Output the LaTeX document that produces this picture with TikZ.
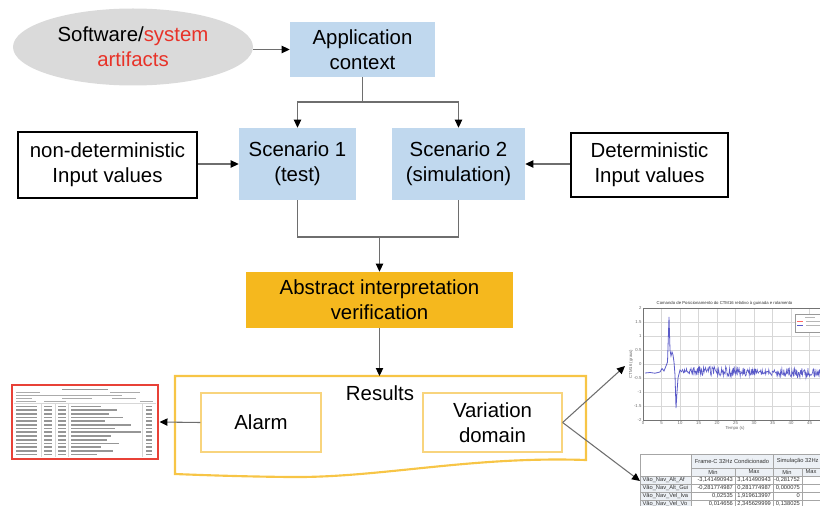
\documentclass[tikz,border=0pt]{standalone}
\usepackage{fontspec}
\setmainfont{Liberation Sans}
\usetikzlibrary{arrows.meta,shapes.geometric}
\definecolor{lblue}{RGB}{192,216,238}
\definecolor{ellg}{RGB}{218,218,218}
\definecolor{redt}{RGB}{232,50,40}
\definecolor{orng}{RGB}{245,184,30}
\definecolor{resb}{RGB}{247,197,70}
\definecolor{resin}{RGB}{248,212,125}
\definecolor{connc}{RGB}{110,110,110}
\definecolor{redb}{RGB}{232,65,55}
\definecolor{tgray}{RGB}{150,150,150}
\definecolor{gridc}{RGB}{215,215,215}
\definecolor{sigc}{RGB}{90,90,200}
\definecolor{thead}{RGB}{236,240,245}
\newcommand\mainfs{\fontsize{15.3}{18.5}\selectfont}
\newcommand\tinyfs{\fontsize{4.3}{5}\selectfont}
\newcommand\microfs{\fontsize{3.2}{3.5}\selectfont}
\newcommand\trow[5]{%
  \node[font=\tinyfs,text=black!80,anchor=west,inner sep=1pt] at (641,#1) {#2};
  \node[font=\tinyfs,text=black!80,anchor=east,inner sep=1pt] at (734.5,#1) {#3};
  \node[font=\tinyfs,text=black!80,anchor=east,inner sep=1pt] at (772.5,#1) {#4};
  \node[font=\tinyfs,text=black!80,anchor=east,inner sep=1pt] at (801.5,#1) {#5};}
\begin{document}
\begin{tikzpicture}[x=0.75pt,y=-0.75pt,
  wh/.style 2 args={minimum width=#1*0.75pt,minimum height=#2*0.75pt},
  box/.style={rectangle,inner sep=0pt,align=center,font=\mainfs},
  bluebox/.style={box,fill=lblue},
  inbox/.style={box,draw=black,line width=1.5pt},
  resbox/.style={box,draw=resin,line width=0.9pt},
  conn/.style={draw=connc,line width=0.8pt,-{Triangle[length=6pt,width=5.5pt,color=black]}},
  plainline/.style={draw=connc,line width=0.8pt},
  thinline/.style={draw=gridc,line width=0.3pt}]
\useasboundingbox (0,0) rectangle (820,506);

% ---- main nodes
\node[ellipse,fill=ellg,wh={240}{77},inner sep=0pt,align=center,font=\mainfs] (sw) at (133,47)
  {Software/\textcolor{redt}{system}\\\textcolor{redt}{artifacts}};
\node[bluebox,wh={145}{55}] (app) at (362.5,49.5) {Application\\context};
\node[bluebox,wh={117}{72}] (s1) at (297.5,164) {Scenario 1\\(test)};
\node[bluebox,wh={133}{72}] (s2) at (458.5,164) {Scenario 2\\(simulation)};
\node[inbox,wh={179}{66}] (nd) at (107.5,165) {non-deterministic\\Input values};
\node[inbox,wh={157}{64}] (det) at (649.5,165) {Deterministic\\Input values};
\node[box,fill=orng,wh={267}{56}] (aiv) at (379.5,300) {Abstract interpretation\\verification};

% ---- results document shape
\draw[draw=resb,line width=1.6pt] (175,376) -- (586,376) -- (586,460)
  .. controls (470,456) and (380,478) .. (290,477)
  .. controls (240,476.5) and (200,475) .. (175,474) -- cycle;
\coordinate (restop) at (379.5,376);
\node[font=\mainfs] (reslbl) at (380,393) {Results};
\node[resbox,wh={120}{59}] (alarm) at (261,422.5) {Alarm};
\node[resbox,wh={139}{59}] (var) at (492.5,422.5) {Variation\\domain};

% ---- left table picture
\node[draw=redb,line width=2.2pt,fill=white,wh={146}{74}] (lt) at (85,422) {};
\fill[tgray] (62,388.5) rectangle (108,390);
\fill[tgray!80] (16,391.5) rectangle (40,392.8);
\fill[tgray!80] (110,391.5) rectangle (140,392.8);
\fill[tgray!80] (16,394.5) rectangle (122,395.8);
\fill[tgray!80] (16,397.5) rectangle (32,398.8);
\fill[tgray!80] (62,397.5) rectangle (92,398.8);
\fill[tgray!80] (112,397.5) rectangle (136,398.8);
\fill[tgray!80] (16,400.5) rectangle (36,401.8);
\fill[tgray!80] (44,400.5) rectangle (66,401.8);
\fill[tgray!80] (140,400.5) rectangle (153,401.8);
\draw[thinline] (14,403.5) -- (156,403.5);
\foreach \xx in {41,55,68,142} {\draw[thinline] (\xx,403.5) -- (\xx,457);}
\foreach \yy/\ll in {405.5/30,409.2/46,412.9/38,416.6/52,420.3/34,424/60,427.7/44,431.4/70,435.1/40,438.8/36,442.5/48,446.2/30,449.9/42,453.6/26}{
  \fill[tgray] (16,\yy) rectangle (37,{\yy+1.7});
  \fill[tgray] (44,\yy) rectangle (52,{\yy+1.7});
  \fill[tgray] (58,\yy) rectangle (66,{\yy+1.7});
  \fill[tgray] (71,\yy) rectangle ({71+\ll},{\yy+1.7});
  \fill[tgray] (146,\yy) rectangle (152,{\yy+1.7});
}

% ---- chart picture and table picture (clipped to the page)
\begin{scope}
\clip (0,0) rectangle (820,506);
\node[font=\microfs,anchor=west,text=black!80] (charttitle) at (652,303)
  {Comando de Posicionamento do CTM16 relativo à guinada e rolamento};
\foreach \xx in {661.5,680,698.5,717,735.5,754,772.5,791,809.5} {\draw[thinline] (\xx,308) -- (\xx,420);}
\foreach \yy in {322,336,350,364,378,392,406} {\draw[thinline] (643,\yy) -- (830,\yy);}
\draw[draw=black!55,line width=0.4pt] (643,308) rectangle (835,420);
\foreach \yy/\lab in {308/2,322/1.5,336/1,350/0.5,364/0,378/-0.5,392/-1,406/-1.5,420/-2}
  {\node[font=\microfs,anchor=east,text=black!60,inner sep=1pt] at (643,\yy) {\lab};}
\foreach \xx/\lab in {643/0,661.5/5,680/10,698.5/15,717/20,735.5/25,754/30,772.5/35,791/40,809.5/45}
  {\node[font=\microfs,anchor=north,text=black!60,inner sep=1pt] at (\xx,420) {\lab};}
\node[font=\microfs,text=black!60] (xlab) at (735,428) {Tempo (s)};
\node[font=\microfs,text=black!60,rotate=90] (ylab) at (631,364) {CTM16 (graus)};
\draw[draw=black!40,fill=white,line width=0.3pt] (795,314) rectangle (828,332);
\draw[red!60,line width=0.3pt] (797,321) -- (803,321);
\draw[sigc,line width=0.3pt] (797,325) -- (803,325);
\fill[tgray!70] (806,320.5) rectangle (822,321.5);
\fill[tgray!70] (806,324.5) rectangle (824,325.5);
\fill[tgray!70] (805,316.5) rectangle (815,317.3);
\draw[sigc,line width=0.6pt] plot coordinates {(645,373) (650,372.5) (655,373.2) (660,372) (662,368.5) (664,371) (666,366) (667.5,362) (669,317) (670,350) (671,356) (672,352) (673,355) (674,362) (675,375) (676,408) (677,392) (678,378) (680,370) (682,372)};
\pgfmathsetseed{7}
\draw[sigc,line width=0.45pt] plot[domain=0:150,samples=300] ({682+\x},{370.5+0.02*\x+(2.2+3.2*abs(sin(\x*2.2)))*rand});

% bottom table
\fill[thead] (640,454) rectangle (691,510);
\fill[thead] (691,454) rectangle (830,476);
\foreach \yy in {454,468,476,484,492,500} {\draw[draw=black!35,line width=0.35pt] (640,\yy) -- (830,\yy);}
\foreach \xx in {640,691,773} {\draw[draw=black!35,line width=0.35pt] (\xx,454) -- (\xx,510);}
\foreach \xx in {735,802} {\draw[draw=black!35,line width=0.35pt] (\xx,468) -- (\xx,510);}
\fill[white] (640.5,454.5) rectangle (690.5,475.5);
\node[font=\tinyfs,text=black!80] (th1) at (732,461) {Frame-C 32Hz Condicionado};
\node[font=\tinyfs,text=black!80,anchor=east,inner sep=0.5pt] (th2) at (819.5,461) {Simulação 32Hz};
\node[font=\tinyfs,text=black!80] at (713,472) {Min};
\node[font=\tinyfs,text=black!80] at (754,472) {Max};
\node[font=\tinyfs,text=black!80] at (787,472) {Min};
\node[font=\tinyfs,text=black!80] at (811,472) {Max};
\trow{480}{Vão\_Nav\_Alt\_Af}{-3,141490943}{3,141490943}{-0,281752}
\trow{488}{Vão\_Nav\_Alt\_Gui}{-0,281774987}{0,281774987}{0,000075}
\trow{496}{Vão\_Nav\_Vel\_Iva}{0,02535}{1,919613997}{0}
\trow{504}{Vão\_Nav\_Vel\_Vo}{0,014656}{2,345629999}{0,138025}
\end{scope}

% ---- connectors
\coordinate (split) at (362.5,102);
\coordinate (merge) at (379.5,237);
\coordinate (chartin) at (625,366);
\coordinate (tabin) at (640,481);
\draw[conn] (sw.east |- app.west) -- (app.west);
\draw[plainline] (app.south) -- (split);
\draw[conn] (split) -| (s1.north);
\draw[conn] (split) -| (s2.north);
\draw[conn] (nd.east |- s1.west) -- (s1.west);
\draw[conn] (det.west |- s2.east) -- (s2.east);
\draw[plainline] (s1.south) |- (merge) -| (s2.south);
\draw[conn] (merge) -- (aiv.north);
\draw[conn] (aiv.south) -- (restop);
\draw[conn] (alarm.west) -- (lt.east);
\draw[conn] (var.east) -- (chartin);
\draw[conn] (var.east) -- (tabin);
\end{tikzpicture}
\end{document}
